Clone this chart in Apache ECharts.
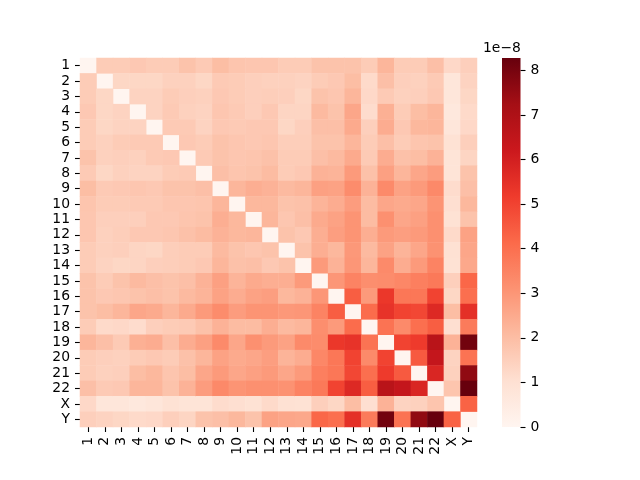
<!DOCTYPE html>
<html><head><meta charset="utf-8">
<style>html,body{margin:0;padding:0;background:#fff}#c{width:640px;height:480px}</style>
<script src="https://cdn.jsdelivr.net/npm/echarts@6/dist/echarts.min.js"></script>
</head><body><div id="c"></div>
<script>
const labels = ['1','2','3','4','5','6','7','8','9','10','11','12','13','14','15','16','17','18','19','20','21','22','X','Y'];
const colorbarTicks = [0,1,2,3,4,5,6,7,8];
const vmax = 8.28;
// Upper triangle of the symmetric matrix, in units of 1e-8: each row starts just after the diagonal
const row1  = [1.6,1.6,1.7,1.6,1.6,1.85,1.65,2.0,1.8,1.75,1.75,1.6,1.6,1.85,1.85,1.85,1.6,2.2,1.6,1.6,1.95,1.25,1.5];
const row2  = [1.3,1.3,1.3,1.45,1.45,1.3,1.65,1.6,1.5,1.45,1.45,1.4,1.6,1.7,2.0,1.2,1.95,1.5,1.45,1.65,0.75,1.4];
const row3  = [1.4,1.4,1.6,1.5,1.45,1.7,1.6,1.5,1.55,1.5,1.3,1.85,1.75,2.2,1.25,1.65,1.45,1.5,1.7,0.75,1.3];
const row4  = [1.4,1.65,1.45,1.4,1.75,1.65,1.5,1.7,1.35,1.35,2.1,1.85,2.6,1.15,2.35,1.6,2.0,2.2,0.65,1.2];
const row5  = [1.65,1.65,1.4,1.7,1.65,1.7,1.7,1.3,1.5,1.95,1.95,2.5,1.5,2.45,1.7,2.15,2.2,0.75,1.25];
const row6  = [1.7,1.6,1.85,1.75,1.7,1.75,1.55,1.55,1.85,1.85,2.2,1.6,1.95,1.6,1.8,1.85,0.95,1.5];
const row7  = [1.65,1.85,1.75,1.8,1.9,1.6,1.6,1.95,2.1,2.5,1.65,2.45,1.9,2.0,2.3,0.85,1.35];
const row8  = [1.95,1.8,1.85,2.05,1.6,1.7,2.3,2.25,2.9,1.9,2.75,2.2,2.6,2.85,0.85,1.85];
const row9  = [2.2,2.4,2.3,2.1,2.2,2.75,2.7,3.25,2.3,3.3,2.7,2.9,3.35,1.15,1.95];
const row10 = [2.15,2.15,1.85,1.9,2.25,2.45,2.85,2.05,2.6,2.5,2.6,3.05,1.05,2.15];
const row11 = [2.2,1.75,1.95,2.5,2.7,3.05,2.05,3.15,2.6,2.75,3.15,0.95,1.85];
const row12 = [1.85,1.7,2.4,2.8,3.05,2.4,2.9,2.8,2.9,3.15,1.2,2.7];
const row13 = [1.85,2.4,2.15,2.95,2.1,2.7,2.25,2.6,3.1,1.0,2.6];
const row14 = [2.9,2.3,3.0,2.2,3.3,2.45,2.9,3.5,0.95,2.55];
const row15 = [3.0,3.5,3.2,3.25,3.4,3.6,3.75,1.5,4.2];
const row16 = [4.4,2.9,5.3,3.8,3.8,5.0,1.3,4.0];
const row17 = [4.1,5.4,5.0,4.9,5.7,2.0,5.5];
const row18 = [3.9,3.3,4.0,4.4,1.05,3.7];
const row19 = [5.0,5.2,6.7,2.3,8.1];
const row20 = [4.5,6.4,1.4,3.9];
const row21 = [5.8,1.45,7.6];
const row22 = [1.8,8.28];
const rowX  = [4.3];
const rows = [row1,row2,row3,row4,row5,row6,row7,row8,row9,row10,row11,row12,row13,row14,row15,row16,row17,row18,row19,row20,row21,row22,rowX];

const cells = [];
labels.forEach((_, i) => cells.push([i, i, 0]));
rows.forEach((r, i) => r.forEach((v, k) => {
  const j = i + 1 + k;
  cells.push([j, i, v]);
  cells.push([i, j, v]);
}));

const reds = ['#fff5f0','#fee0d2','#fcbba1','#fc9272','#fb6a4a','#ef3b2c','#cb181d','#a50f15','#67000d'];
const font = 'DejaVu Sans';
const chart = echarts.init(document.getElementById('c'), null, {renderer:'canvas'});
chart.setOption({
  animation:false,
  backgroundColor:'#fff',
  textStyle:{fontFamily:font},
  grid:[
    {left:80, top:58, width:397, height:369},
    {left:502, top:58, width:18.5, height:369}
  ],
  xAxis:[
    {type:'category', gridIndex:0, data:labels, splitArea:{show:false}, splitLine:{show:false},
     axisLine:{show:false},
     axisTick:{show:true, alignWithLabel:true, length:5, lineStyle:{color:'#000', width:1.1}},
     axisLabel:{rotate:90, interval:0, margin:10, fontSize:13.9, color:'#000', fontFamily:font}},
    {type:'category', gridIndex:1, data:['scale'], show:false}
  ],
  yAxis:[
    {type:'category', gridIndex:0, data:labels, inverse:true, splitArea:{show:false}, splitLine:{show:false},
     axisLine:{show:false},
     axisTick:{show:true, alignWithLabel:true, length:5, lineStyle:{color:'#000', width:1.1}},
     axisLabel:{interval:0, margin:10, fontSize:13.9, color:'#000', fontFamily:font}},
    {type:'value', gridIndex:1, position:'right', min:0, max:vmax, interval:colorbarTicks[1]-colorbarTicks[0],
     splitLine:{show:false}, axisLine:{show:false},
     axisTick:{show:true, length:5, lineStyle:{color:'#000', width:1.1}},
     axisLabel:{margin:10, fontSize:13.9, color:'#000', fontFamily:font, showMaxLabel:false}}
  ],
  visualMap:{show:false, seriesIndex:0, min:0, max:vmax, inRange:{color:reds}},
  series:[
    {type:'heatmap', xAxisIndex:0, yAxisIndex:0, data:cells, progressive:0, itemStyle:{borderWidth:0}, emphasis:{disabled:true}},
    {type:'bar', xAxisIndex:1, yAxisIndex:1, data:[vmax], barWidth:'100%', silent:true,
     itemStyle:{color:new echarts.graphic.LinearGradient(0,1,0,0, reds.map((c,i)=>({offset:i/(reds.length-1), color:c})))}}
  ],
  graphic:[{type:'text', left:483, top:41, style:{text:'1e\u22128', font:'13.9px "DejaVu Sans"', fill:'#000'}}]
});
</script></body></html>
